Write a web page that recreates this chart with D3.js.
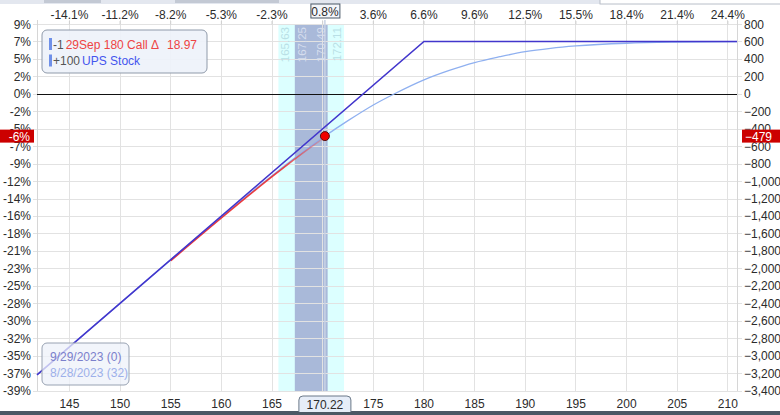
<!DOCTYPE html>
<html><head><meta charset="utf-8">
<script src="https://cdn.jsdelivr.net/npm/d3@7"></script>
<style>
body{margin:0;background:#fff;}
svg{display:block;font-family:"Liberation Sans",Arial,sans-serif;}
</style></head>
<body><svg id="c" width="780" height="415"></svg>
<script>
// ---- data ----
const priceTicks = [145,150,155,160,165,170,175,180,185,190,195,200,205,210];
const topPctLabels = ["-14.1%","-11.2%","-8.2%","-5.3%","-2.3%","","3.6%","6.6%","9.6%","12.5%","15.5%","18.4%","21.4%","24.4%"];
const pnlTicks = [800,600,400,200,0,-200,-400,-600,-800,-1000,-1200,-1400,-1600,-1800,-2000,-2200,-2400,-2600,-2800,-3000,-3200,-3400];
const pctLabels = ["9%","7%","5%","2%","0%","-2%","-5%","-7%","-9%","-12%","-14%","-16%","-18%","-21%","-23%","-25%","-28%","-30%","-32%","-35%","-37%","-39%"];
const currentPrice = 170.22, currentPct = "0.8%", currentPnl = -479, currentPnlPct = "-6%";
const expPrices = [141.8, 180, 210.9];
const expPnl = [-3215, 605, 605];
const t0Prices = [141.8,150,155,160,165,167.5,170.22,172.5,175,177,180,182.5,185,187.5,190,192.5,195,200,205,210.9];
const t0Pnl = [-3215,-2395,-1896,-1406,-933,-708,-479,-302,-122,1,166,274,364,431,489,527,554,585,598,604];
const redRange = [157, 170.22];
const outerBand = [165.63, 172.11];
const innerBand = [167.25, 170.49];
const legendRows = [
  {qty:"-1", name:"29Sep 180 Call \u0394", value:"18.97", color:"#ee4444"},
  {qty:"+100", name:"UPS Stock", value:"", color:"#4455ee"}
];
const dateRows = [
  {text:"9/29/2023 (0)", color:"#7b80cc"},
  {text:"8/28/2023 (32)", color:"#9db0ea"}
];

// ---- layout ----
const svg = d3.select("#c");
const L = 37, R = 737, T = 24.5, B = 391;
const x = d3.scaleLinear().domain([141.8, 210.9]).range([L, R]);
const y = d3.scaleLinear().domain([-3400, 800]).range([B, T]);
const font = 11;

// top strip
svg.append("rect").attr("x",0).attr("y",0).attr("width",780).attr("height",4).attr("fill","#e3e7ef");
svg.append("rect").attr("x",44).attr("y",0).attr("width",57).attr("height",3).attr("fill","#c3c9d4");
svg.append("rect").attr("x",175).attr("y",0).attr("width",104).attr("height",3).attr("fill","#c3c9d4");
svg.append("rect").attr("x",600).attr("y",-1).attr("width",182).attr("height",5).attr("fill","#fff").attr("stroke","#b8bec8");
// bottom strip
svg.append("rect").attr("x",0).attr("y",411).attr("width",780).attr("height",4).attr("fill","#4b5865");

// bands
svg.append("rect").attr("x",x(outerBand[0])).attr("width",x(outerBand[1])-x(outerBand[0]))
  .attr("y",T).attr("height",B-T).attr("fill","#dcffff");
svg.append("rect").attr("x",x(innerBand[0])).attr("width",x(innerBand[1])-x(innerBand[0]))
  .attr("y",T).attr("height",B-T).attr("fill","#a9b9d9");

// gridlines
const g = svg.append("g");
g.selectAll("line.h").data(pnlTicks).join("line")
  .attr("x1",L-4).attr("x2",R+5).attr("y1",d=>y(d)).attr("y2",d=>y(d))
  .attr("stroke","#e2e2e2").attr("stroke-width",1).attr("shape-rendering","crispEdges");
g.selectAll("line.v").data(priceTicks).join("line")
  .attr("x1",d=>x(d)).attr("x2",d=>x(d)).attr("y1",20).attr("y2",B)
  .attr("stroke","#e2e2e2").attr("stroke-width",1).attr("shape-rendering","crispEdges");
// current price line
svg.append("line").attr("x1",x(currentPrice)).attr("x2",x(currentPrice)).attr("y1",20).attr("y2",B)
  .attr("stroke","#c8d2e4").attr("stroke-width",1.5);
// axis lines
svg.append("line").attr("x1",L).attr("x2",L).attr("y1",20).attr("y2",B).attr("stroke","#d6d6d6").attr("shape-rendering","crispEdges");
svg.append("line").attr("x1",R).attr("x2",R).attr("y1",20).attr("y2",B).attr("stroke","#d6d6d6").attr("shape-rendering","crispEdges");
// zero line
svg.append("line").attr("x1",L).attr("x2",R).attr("y1",y(0)).attr("y2",y(0)).attr("stroke","#111").attr("stroke-width",1).attr("shape-rendering","crispEdges");

// band labels
const bandLabels = [
  {v:outerBand[0], side:1, color:"#b9dfe6"},
  {v:innerBand[0], side:1, color:"#d6deee"},
  {v:innerBand[1], side:-1, color:"#d6deee"},
  {v:outerBand[1], side:-1, color:"#b9dfe6"}
];
svg.selectAll("text.band").data(bandLabels).join("text")
  .attr("transform",d=>`translate(${x(d.v)+ (d.side>0?11:-3)},27) rotate(-90)`)
  .attr("text-anchor","end").attr("font-size",11.5).attr("fill",d=>d.color)
  .text(d=>d.v.toFixed(2));

// lines
const t0 = t0Prices.map((p,i)=>[p,t0Pnl[i]]);
const line = d3.line().x(d=>x(d[0])).y(d=>y(d[1])).curve(d3.curveMonotoneX);
svg.append("path").datum(t0).attr("d",line).attr("fill","none").attr("stroke","#8fb0f0").attr("stroke-width",1.3);

// red segment with fade
const defs = svg.append("defs");
const grad = defs.append("linearGradient").attr("id","rg").attr("gradientUnits","userSpaceOnUse")
  .attr("x1",x(redRange[0])).attr("x2",x(redRange[1])).attr("y1",0).attr("y2",0);
grad.append("stop").attr("offset","0%").attr("stop-color","#ee2222").attr("stop-opacity",0.9);
grad.append("stop").attr("offset","70%").attr("stop-color","#ee2222").attr("stop-opacity",0.85);
grad.append("stop").attr("offset","100%").attr("stop-color","#ee5555").attr("stop-opacity",0.25);
const redPts = t0.filter(d=>d[0]>=redRange[0]-3 && d[0]<=redRange[1]);
const redLine = d3.line().x(d=>x(d[0])).y(d=>y(d[1])+1).curve(d3.curveMonotoneX);
svg.append("path").datum(redPts.filter(d=>d[0]>=155)).attr("d",redLine).attr("fill","none")
  .attr("stroke","url(#rg)").attr("stroke-width",1.6);

const exp = expPrices.map((p,i)=>[p,expPnl[i]]);
svg.append("path").datum(exp).attr("d",d3.line().x(d=>x(d[0])).y(d=>y(d[1])))
  .attr("fill","none").attr("stroke","#4236cc").attr("stroke-width",1.6);

// current dot
svg.append("circle").attr("cx",x(currentPrice)).attr("cy",y(currentPnl)).attr("r",4.5)
  .attr("fill","#f00000").attr("stroke","#5a1010").attr("stroke-width",1);

// axes labels
const txtCol = "#2b2b2b";
svg.selectAll("text.bx").data(priceTicks.filter(d=>d!==170)).join("text")
  .attr("x",d=>x(d)).attr("y",408).attr("text-anchor","middle").attr("font-size",12).attr("fill",txtCol)
  .text(d3.format("d"));
svg.selectAll("text.tx").data(priceTicks.map((p,i)=>({p,l:topPctLabels[i]})).filter(d=>d.l)).join("text")
  .attr("x",d=>x(d.p)).attr("y",19).attr("text-anchor","middle").attr("font-size",12).attr("fill",txtCol)
  .text(d=>d.l);
// small top tick marks
svg.selectAll("line.tt").data(priceTicks).join("line")
  .attr("x1",d=>x(d)).attr("x2",d=>x(d)).attr("y1",21).attr("y2",T)
  .attr("stroke","#cfcfcf");

svg.selectAll("text.ly").data(pnlTicks.map((v,i)=>({v,l:pctLabels[i]}))).join("text")
  .attr("x",31).attr("y",d=>y(d.v)+4).attr("text-anchor","end").attr("font-size",12).attr("fill",txtCol)
  .text(d=>d.l);
svg.selectAll("text.ry").data(pnlTicks).join("text")
  .attr("x",744).attr("y",d=>y(d)+4).attr("text-anchor","start").attr("font-size",12).attr("fill",txtCol)
  .text(d3.format(",d"));

// highlighted current values
svg.append("rect").attr("x",0).attr("y",y(currentPnl)-6.5).attr("width",34).attr("height",13).attr("fill","#cc0000");
svg.append("text").attr("x",30).attr("y",y(currentPnl)+4.5).attr("text-anchor","end").attr("font-size",12).attr("fill","#fff").text(currentPnlPct);
svg.append("rect").attr("x",742).attr("y",y(currentPnl)-6.5).attr("width",38).attr("height",13).attr("fill","#cc0000");
svg.append("text").attr("x",745).attr("y",y(currentPnl)+4.5).attr("font-size",12).attr("fill","#fff").text(d3.format(",d")(currentPnl));

// current price boxes
const cx = x(currentPrice);
svg.append("path").attr("d",`M${cx-26},412 V400 Q${cx-26},396 ${cx-22},396 H${cx+22} Q${cx+26},396 ${cx+26},400 V412`)
  .attr("fill","#e6edf8").attr("stroke","#6a7888");
svg.append("text").attr("x",cx).attr("y",408.5).attr("text-anchor","middle").attr("font-size",12).attr("fill",txtCol).text(currentPrice.toFixed(2));
svg.append("rect").attr("x",cx-14).attr("y",4).attr("width",29).attr("height",14).attr("fill","#f4f6fa").attr("stroke","#4a5866");
svg.append("text").attr("x",cx).attr("y",15.5).attr("text-anchor","middle").attr("font-size",12).attr("fill",txtCol).text(currentPct);

// legend
svg.append("rect").attr("x",42).attr("y",30).attr("width",165).attr("height",43).attr("rx",5)
  .attr("fill","#eef2fa").attr("fill-opacity",0.92).attr("stroke","#8f9aaa");
const lg = svg.selectAll("g.leg").data(legendRows).join("g").attr("transform",(d,i)=>`translate(0,${44+i*16.5})`);
lg.append("rect").attr("x",49).attr("y",-6).attr("width",3).attr("height",12).attr("fill","#6f90e8");
lg.append("text").attr("x",53).attr("y",4.5).attr("font-size",12).attr("fill","#555").text(d=>d.qty)
  .each(function(d){ d.w = this.getComputedTextLength(); });
lg.append("text").attr("x",d=>53+d.w+2).attr("y",4.5).attr("font-size",12).attr("fill",d=>d.color).text(d=>d.name);
lg.append("text").attr("x",197).attr("y",4.5).attr("text-anchor","end").attr("font-size",12).attr("fill",d=>d.color).text(d=>d.value);

// dates box
svg.append("rect").attr("x",42).attr("y",343).attr("width",87).attr("height",42).attr("rx",5)
  .attr("fill","#eef2fa").attr("fill-opacity",0.75).attr("stroke","#98a2b2");
svg.selectAll("text.dt").data(dateRows).join("text")
  .attr("x",50).attr("y",(d,i)=>361+i*16).attr("font-size",12).attr("fill",d=>d.color).text(d=>d.text);
</script></body></html>
